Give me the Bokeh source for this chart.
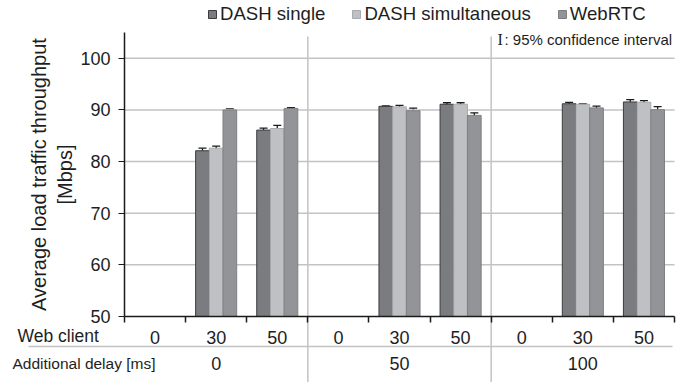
import math

from bokeh.plotting import figure
from bokeh.models import (ColumnDataSource, FixedTicker, Whisker, TeeHead, Legend,
                          LegendItem, Label, Range1d, Grid)
from bokeh.embed import file_html
from bokeh.resources import INLINE

nan = float("nan")

# Categories: additional delay groups, each split by web client count
delays = ["0", "50", "100"]
clients = ["0", "30", "50"]
series_names = ["DASH single", "DASH simultaneous", "WebRTC"]

# Average load traffic throughput [Mbps] and 95% CI half-widths, 9 slots (delay x client);
# nan marks a slot without a measurement
dash_single = [nan, 82.1, 86.1, nan, 90.7, 91.1, nan, 91.2, 91.55]
dash_single_ci = [nan, 0.5, 0.4, nan, 0.1, 0.3, nan, 0.25, 0.45]
dash_simult = [nan, 82.6, 86.4, nan, 90.6, 91.1, nan, 91.1, 91.5]
dash_simult_ci = [nan, 0.4, 0.6, nan, 0.3, 0.3, nan, 0.05, 0.3]
webrtc = [nan, 90.0, 90.3, nan, 89.85, 88.95, nan, 90.4, 90.05]
webrtc_ci = [nan, 0.2, 0.15, nan, 0.5, 0.5, nan, 0.35, 0.6]

y_ticks = [50, 60, 70, 80, 90, 100]

# ---- layout: the frame fills the canvas, the plot box sits inside it ----
W, H = 697, 382
BOX_L, BOX_R, BOX_T, BOX_B = 124, 674, 32, 316
X0, X1 = 0, len(delays) * len(clients)
Y0, Y1 = 50, 105
FONT = "Liberation Sans"
TXT = "#1e1e1e"
GRID = "#c3c3c3"


def dx(px):
    return X0 + (px - BOX_L) / (BOX_R - BOX_L) * (X1 - X0)


def dy(py):
    return Y1 - (py - BOX_T) / (BOX_B - BOX_T) * (Y1 - Y0)


p = figure(width=W, height=H, output_backend="svg", toolbar_location=None,
           x_range=Range1d(dx(0), dx(W)), y_range=Range1d(dy(H), dy(0)),
           min_border_left=0, min_border_right=0, min_border_top=0, min_border_bottom=0)
p.outline_line_color = None
p.outline_line_alpha = 0
p.background_fill_color = "white"
p.border_fill_color = "white"
# grid lines are drawn by hand so they stay inside the plot box
p.center = [c for c in p.center if not isinstance(c, Grid)]

# horizontal grid lines across the plot box
p.segment(x0=X0, x1=X1, y0=y_ticks[1:], y1=y_ticks[1:], line_color=GRID, line_width=1.5)

# group separators and the delay-row rule
seps = [g * len(clients) for g in range(1, len(delays))]
p.segment(x0=seps, x1=seps, y0=dy(36), y1=dy(H), line_color=GRID, line_width=1.5)
p.segment(x0=dx(28), x1=dx(672), y0=dy(346), y1=dy(346), line_color=GRID, line_width=1.5)

centers = [i + 0.5 for i in range(X1)]
bar_w = 0.224
colors = ["#7b7c80", "#bfc0c4", "#939498"]
edges = ["#3c3c3e", "#a9aaae", "#7e7f83"]
values = [dash_single, dash_simult, webrtc]
cis = [dash_single_ci, dash_simult_ci, webrtc_ci]

renderers = []
for k, (vals, ci) in enumerate(zip(values, cis)):
    keep = [i for i, v in enumerate(vals) if not math.isnan(v)]
    src = ColumnDataSource(dict(
        x=[centers[i] + (k - 1) * bar_w for i in keep],
        top=[vals[i] for i in keep],
        lo=[vals[i] - ci[i] for i in keep],
        hi=[vals[i] + ci[i] for i in keep],
    ))
    r = p.vbar(x="x", top="top", bottom=Y0, width=bar_w, source=src,
               fill_color=colors[k], line_color=edges[k], line_width=1)
    renderers.append(r)
    wh = Whisker(base="x", lower="lo", upper="hi", source=src,
                 line_color="#1a1a1a", line_width=1.3,
                 upper_head=TeeHead(size=8, line_color="#1a1a1a", line_width=1.3),
                 lower_head=TeeHead(size=8, line_color="#1a1a1a", line_width=1.3))
    p.add_layout(wh)

# ---- axes, pinned to the plot box ----
yax = p.yaxis[0]
yax.fixed_location = X0
yax.bounds = (Y0, Y1)
yax.ticker = FixedTicker(ticks=y_ticks, minor_ticks=[])
yax.axis_line_color = "#1a1a1a"
yax.axis_line_width = 1.5
yax.major_tick_out = 6
yax.major_tick_in = 0
yax.major_tick_line_color = "#1a1a1a"
yax.major_label_text_font = FONT
yax.major_label_text_font_size = "18px"
yax.major_label_text_color = TXT
yax.major_label_standoff = 8
yax.axis_label = "Average load traffic throughput\n[Mbps]"
yax.axis_label_text_font = FONT
yax.axis_label_text_font_size = "20px"
yax.axis_label_text_font_style = "normal"
yax.axis_label_text_color = TXT
yax.axis_label_standoff = 1

client_labels = [c for _ in delays for c in clients]
xax = p.xaxis[0]
xax.fixed_location = Y0
xax.bounds = (X0, X1)
xax.ticker = FixedTicker(ticks=centers, minor_ticks=list(range(X1 + 1)))
xax.major_label_overrides = {c: lab for c, lab in zip(centers, client_labels)}
xax.axis_line_color = "#1a1a1a"
xax.axis_line_width = 1.5
xax.major_tick_out = 0
xax.major_tick_in = 0
xax.minor_tick_out = 6
xax.minor_tick_in = 0
xax.minor_tick_line_color = "#1a1a1a"
xax.minor_tick_line_width = 1.5
xax.major_label_text_font = FONT
xax.major_label_text_font_size = "18px"
xax.major_label_text_color = TXT
xax.major_label_standoff = 8

# ---- row titles and delay labels ----
p.add_layout(Label(x=dx(17), y=dy(335), text="Web client", text_font=FONT,
                   text_font_size="17.5px", text_color=TXT, text_baseline="middle"))
p.add_layout(Label(x=dx(12), y=dy(363), text="Additional delay [ms]", text_font=FONT,
                   text_font_size="15.5px", text_color=TXT, text_baseline="middle"))
for g, d in enumerate(delays):
    p.add_layout(Label(x=g * len(clients) + 1.5, y=dy(363), text=d, text_font=FONT,
                       text_font_size="18px", text_color=TXT, text_align="center",
                       text_baseline="middle"))

# ---- confidence-interval note ----
p.add_layout(Label(x=dx(497), y=dy(39), text="I", text_font="Liberation Serif",
                   text_font_size="16px", text_color=TXT, text_baseline="middle"))
p.add_layout(Label(x=dx(504), y=dy(39), text=": 95% confidence interval", text_font=FONT,
                   text_font_size="15px", text_color=TXT, text_baseline="middle"))

# ---- legend ----
legend = Legend(items=[LegendItem(label=n, renderers=[r]) for n, r in zip(series_names, renderers)],
                orientation="horizontal", location=(207, H - 25),
                glyph_width=10, glyph_height=10, label_standoff=3, spacing=26,
                padding=0, margin=0, border_line_color=None, border_line_alpha=0,
                background_fill_alpha=0,
                label_text_font=FONT, label_text_font_size="18.6px", label_text_color=TXT)
p.add_layout(legend)

open("out.html", "w").write(file_html(p, INLINE))
